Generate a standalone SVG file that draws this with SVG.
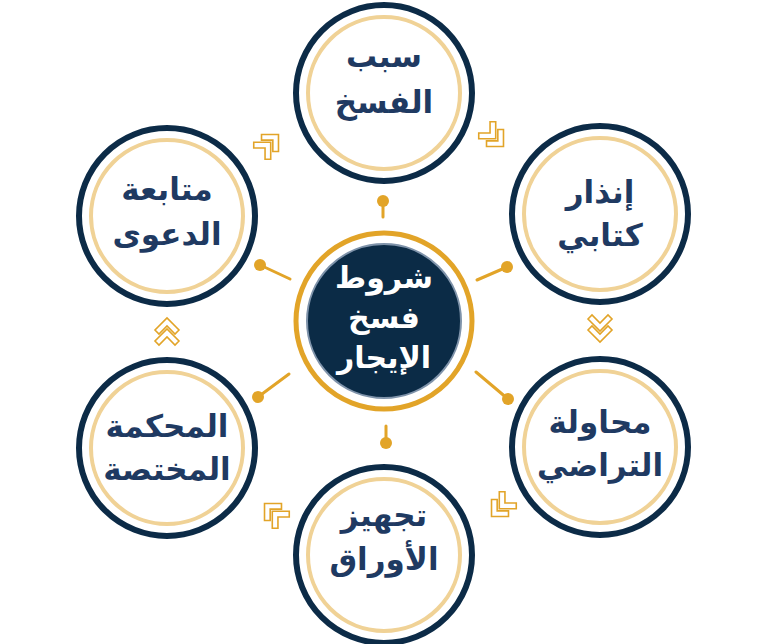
<svg xmlns="http://www.w3.org/2000/svg" width="768" height="644" viewBox="0 0 768 644">
<defs>
<style>
.node-outer{fill:#ffffff;stroke:#0c2b47;stroke-width:6}
.node-inner{fill:none;stroke:#f0d296;stroke-width:4}
.lbl{font-family:"DejaVu Sans",sans-serif;font-size:31px;fill:#1f3a62;text-anchor:middle;font-weight:bold}
.clbl{font-family:"DejaVu Sans",sans-serif;font-size:30px;fill:#ffffff;text-anchor:middle;font-weight:bold}
.conn{stroke:#e2a428;stroke-width:3;stroke-linecap:round;fill:none}
.dot{fill:#e2a428}
.chev{fill:#ffffff;stroke:#e2a428;stroke-width:1.6;stroke-linejoin:miter}
</style>
<g id="dchev">
<polygon class="chev" points="-12,-11 -8,-15 0,-7 8,-15 12,-11 0,1"/>
<polygon class="chev" points="-12,0 -8,-4 0,4 8,-4 12,0 0,12"/>
</g>
</defs>
<rect width="768" height="644" fill="#ffffff"/>

<g id="connectors">
<line class="conn" x1="383" y1="201" x2="383" y2="217"/>
<circle class="dot" cx="383" cy="201" r="6"/>
<line class="conn" x1="260" y1="265" x2="290" y2="279"/>
<circle class="dot" cx="260" cy="265" r="6"/>
<line class="conn" x1="507" y1="267" x2="477" y2="280"/>
<circle class="dot" cx="507" cy="267" r="6"/>
<line class="conn" x1="258" y1="397" x2="289" y2="374"/>
<circle class="dot" cx="258" cy="397" r="6"/>
<line class="conn" x1="508" y1="399" x2="476" y2="372"/>
<circle class="dot" cx="508" cy="399" r="6"/>
<line class="conn" x1="386" y1="443" x2="386" y2="426"/>
<circle class="dot" cx="386" cy="443" r="6"/>
<use href="#dchev" transform="translate(270,143) rotate(-135)"/>
<use href="#dchev" transform="translate(495,138) rotate(-45)"/>
<use href="#dchev" transform="translate(600,330)"/>
<use href="#dchev" transform="translate(500,508) rotate(45)"/>
<use href="#dchev" transform="translate(273,512) rotate(135)"/>
<use href="#dchev" transform="translate(167,330) rotate(180)"/>
</g>

<g id="center">
<circle cx="384" cy="321" r="88" fill="#ffffff" stroke="#e2a428" stroke-width="5"/>
<circle cx="384" cy="321" r="77" fill="#0b2b46" stroke="#7f93aa" stroke-width="2"/>
<text class="clbl" x="384" y="288">شروط</text>
<text class="clbl" x="384" y="328">فسخ</text>
<text class="clbl" x="384" y="368">الإيجار</text>
</g>

<g id="node-top">
<circle class="node-outer" cx="384" cy="93" r="88"/>
<circle class="node-inner" cx="384" cy="93" r="76"/>
<text class="lbl" x="384" y="67">سبب</text>
<text class="lbl" x="384" y="113">الفسخ</text>
</g>

<g id="node-right-top">
<circle class="node-outer" cx="600" cy="214" r="88"/>
<circle class="node-inner" cx="600" cy="214" r="76"/>
<text class="lbl" x="600" y="203">إنذار</text>
<text class="lbl" x="600" y="246">كتابي</text>
</g>

<g id="node-right-bottom">
<circle class="node-outer" cx="600" cy="447" r="88"/>
<circle class="node-inner" cx="600" cy="447" r="76"/>
<text class="lbl" x="600" y="433">محاولة</text>
<text class="lbl" x="600" y="476">التراضي</text>
</g>

<g id="node-bottom">
<circle class="node-outer" cx="384" cy="555" r="88"/>
<circle class="node-inner" cx="384" cy="555" r="76"/>
<text class="lbl" x="384" y="526">تجهيز</text>
<text class="lbl" x="384" y="570">الأوراق</text>
</g>

<g id="node-left-bottom">
<circle class="node-outer" cx="167" cy="448" r="88"/>
<circle class="node-inner" cx="167" cy="448" r="76"/>
<text class="lbl" x="167" y="437">المحكمة</text>
<text class="lbl" x="167" y="480">المختصة</text>
</g>

<g id="node-left-top">
<circle class="node-outer" cx="167" cy="216" r="88"/>
<circle class="node-inner" cx="167" cy="216" r="76"/>
<text class="lbl" x="167" y="200">متابعة</text>
<text class="lbl" x="167" y="245">الدعوى</text>
</g>
</svg>
